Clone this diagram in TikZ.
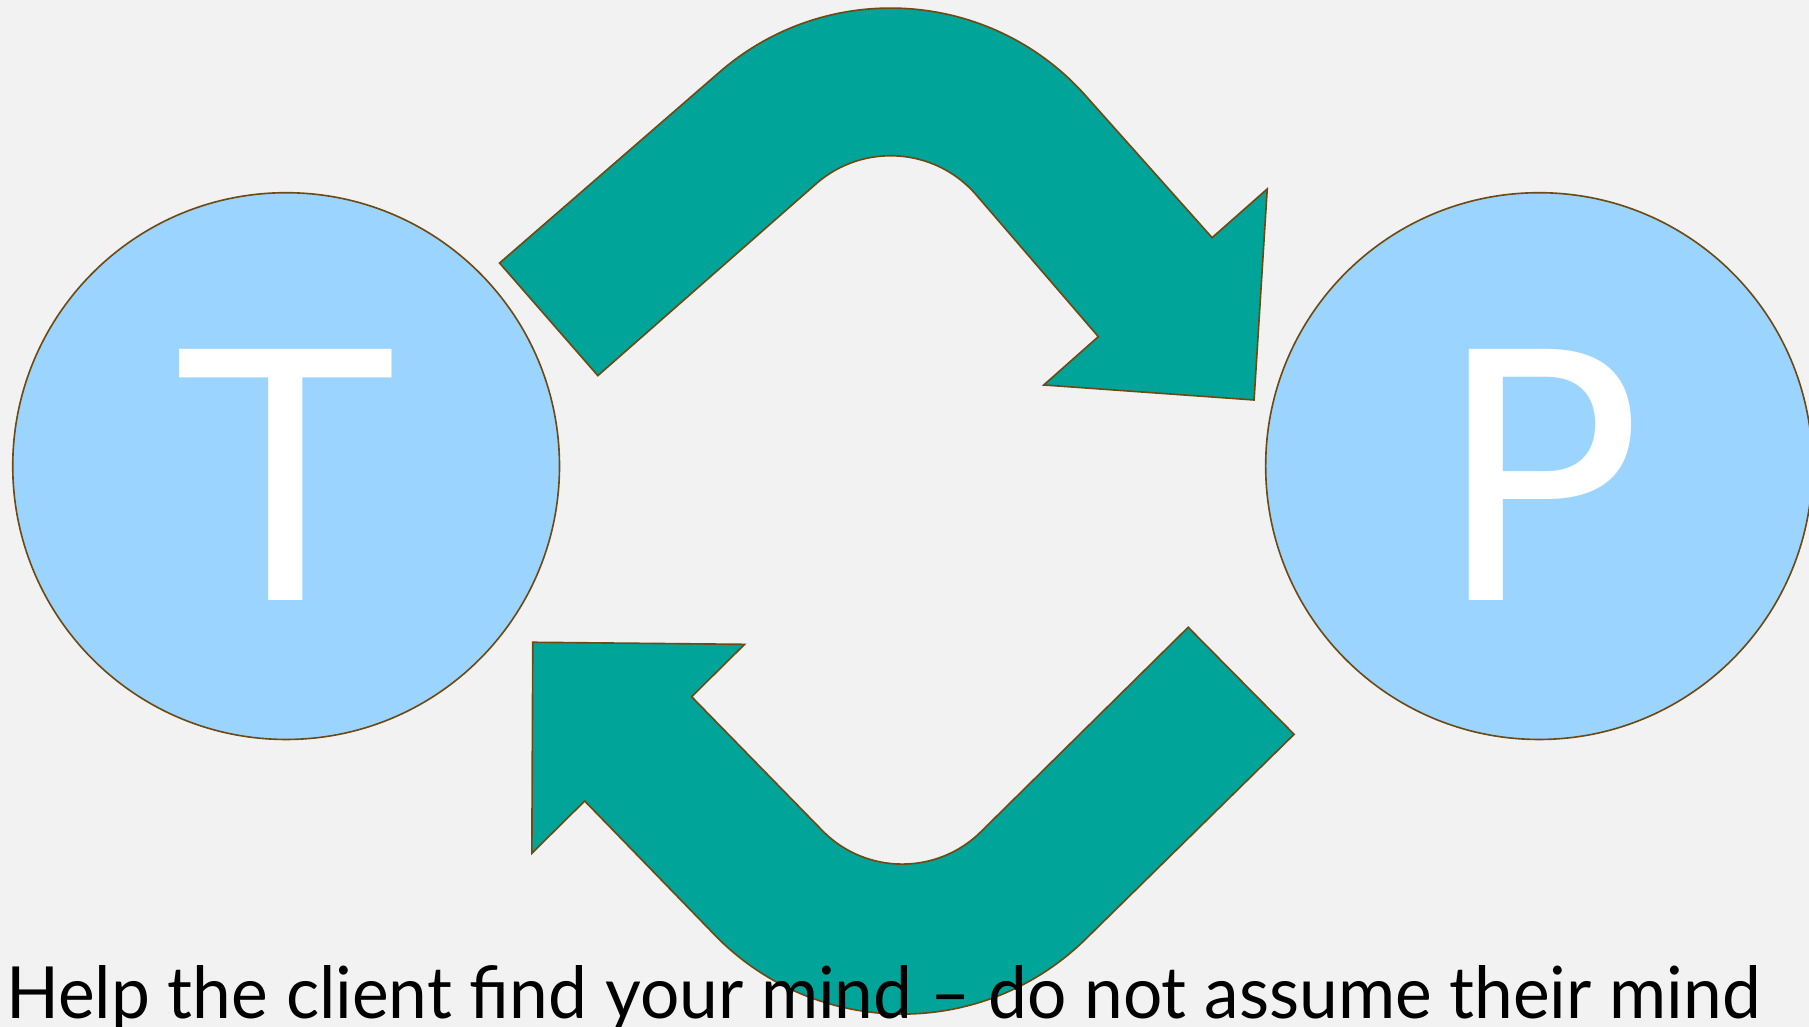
\documentclass[tikz,border=0pt]{standalone}
\usepackage{fontspec}
\usetikzlibrary{calc}
\newfontfamily\letterfont{DejaVu Sans}
\newfontfamily\mottofont[FakeStretch=0.965]{Lato}
\definecolor{LoopBack}{HTML}{F2F2F2}
\definecolor{LoopBlue}{HTML}{9BD5FF}
\definecolor{LoopTeal}{HTML}{00A499}
\definecolor{LoopEdge}{HTML}{6E4A12}
\tikzset{
  person/.style={circle, draw=LoopEdge, fill=LoopBlue, line width=0.8pt, minimum size=9.48cm,
                 inner sep=0pt, text=white, text height=4.65cm, text depth=0pt,
                 font=\letterfont\fontsize{170}{170}\selectfont},
  uturn/.style={draw=LoopEdge, fill=LoopTeal, line width=0.8pt, line join=miter},
  motto/.style={inner sep=0pt, text=black, font=\mottofont\fontsize{35.5}{40}\selectfont},
}

\begin{document}
\begin{tikzpicture}[x=0.02cm, y=0.02cm]
  \fill[LoopBack] (0,0) rectangle (1568,890);
  \useasboundingbox (0,0) rectangle (1568,890);
  \clip (0,0) rectangle (1568,890);

  % the two people
  \node[person] (T) at (248,486) {T};
  \node[person] (P) at (1334,486) {P};

  % bend centres
  \coordinate (topc) at (772,657);
  \coordinate (botc) at (782,238);

  % upper turn, T over to P
  \draw[uturn] (433,662) -- ($(topc)+(131:226)$) arc[start angle=131, end angle=41.5, radius=226]
    -- (1050.6,684) -- (1098.4,726.2) -- (1087,543.3) -- (904.7,556.3) -- (952,598.2)
    -- ($(topc)+(41.5:98)$) arc[start angle=41.5, end angle=131, radius=98]
    -- (518.2,564.4) -- cycle;

  % lower turn, P back to T
  \draw[uturn] (461.8,333.3) -- (645.4,331.5) -- (599.5,286.1)
    -- ($(botc)+(225.4:97)$) arc[start angle=225.4, end angle=314.6, radius=97]
    -- (1029.9,346.3) -- (1121.7,253.5)
    -- ($(botc)+(314.6:227)$) arc[start angle=314.6, end angle=225.4, radius=227]
    -- (506.8,195.7) -- (461,150.4) -- cycle;

  \node[motto, anchor=base west] (line) at (5,7.3) {Help the client find your mind – do not assume their mind};
\end{tikzpicture}
\end{document}
